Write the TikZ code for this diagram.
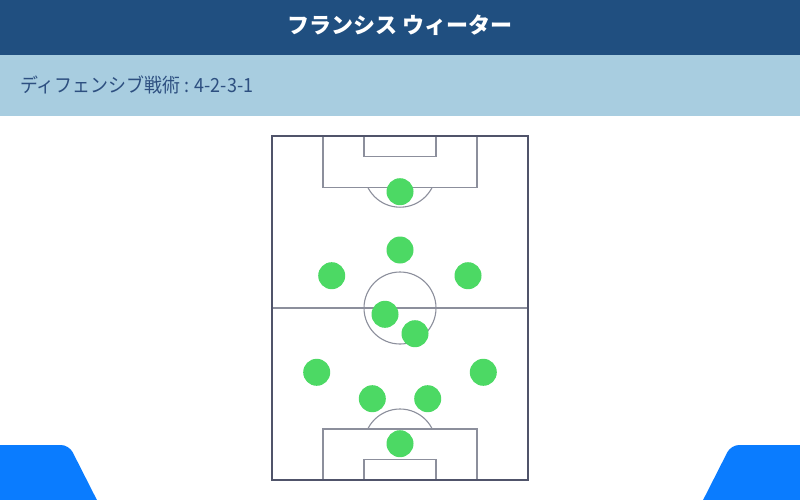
\documentclass[tikz,border=0pt]{standalone}
\usepackage{fontspec}
\newfontfamily\jpfont{Noto Sans CJK JP}
\definecolor{hdark}{HTML}{204F80}
\definecolor{hlight}{HTML}{A8CDE0}
\definecolor{subtxt}{HTML}{2D4F80}
\definecolor{pborder}{HTML}{50546A}
\definecolor{pline}{HTML}{8C8F9C}
\definecolor{pgreen}{HTML}{4CD964}
\definecolor{cblue}{HTML}{0A7CFF}
\tikzset{
  player/.style={circle,fill=pgreen,minimum size=27pt,inner sep=0pt},
  border/.style={draw=pborder,line width=1.6pt},
  fieldline/.style={draw=pline,line width=1.1pt},
}
\begin{document}
\begin{tikzpicture}[x=1pt,y=-1pt]
\useasboundingbox (0,0) rectangle (800,500);
\clip (0,0) rectangle (800,500);
\fill[white] (0,0) rectangle (800,500);
% header
\fill[hdark] (0,0) rectangle (800,55);
\fill[hlight] (0,55) rectangle (800,116);
\node[text=white,font=\jpfont\bfseries\fontsize{22}{22}\selectfont] (title) at (400,25) {フランシス ウィーター};
\node[anchor=west,text=subtxt,font=\jpfont\fontsize{19.5}{19.5}\selectfont,xscale=0.92,inner sep=0pt] (sub) at (20,85) {ディフェンシブ戦術 : 4-2-3-1};
% bottom corner shapes
\fill[cblue,rounded corners=8pt] (-20,445) -- (69,445) -- (102,510) -- (-20,510) -- cycle;
\fill[cblue,rounded corners=8pt] (820,445) -- (731,445) -- (698,510) -- (820,510) -- cycle;
% pitch inner lines
\draw[fieldline] (272,308) -- (528,308);
\draw[fieldline] (400,308) circle (36);
\draw[fieldline] (323,136) -- (323,187.3) -- (477,187.3) -- (477,136);
\draw[fieldline] (364,136) -- (364,156.7) -- (436,156.7) -- (436,136);
\draw[fieldline] (323,480) -- (323,429) -- (477,429) -- (477,480);
\draw[fieldline] (364,480) -- (364,459.7) -- (436,459.7) -- (436,480);
\begin{scope}
\clip (272,187.3) rectangle (528,260);
\draw[fieldline] (400,171.2) circle (36);
\end{scope}
\begin{scope}
\clip (272,360) rectangle (528,429);
\draw[fieldline] (400,445) circle (36);
\end{scope}
\draw[border] (272,136) rectangle (528,480);
% players
\node[player] (p1) at (400,191.7) {};
\node[player] (p2) at (400,250) {};
\node[player] (p3) at (331.7,275.7) {};
\node[player] (p4) at (468,275.7) {};
\node[player] (p5) at (385,314.3) {};
\node[player] (p6) at (415,333.7) {};
\node[player] (p7) at (316.7,372.3) {};
\node[player] (p8) at (483.3,372.3) {};
\node[player] (p9) at (372.3,398.7) {};
\node[player] (p10) at (427.7,398.7) {};
\node[player] (p11) at (400,443.7) {};
\end{tikzpicture}
\end{document}
